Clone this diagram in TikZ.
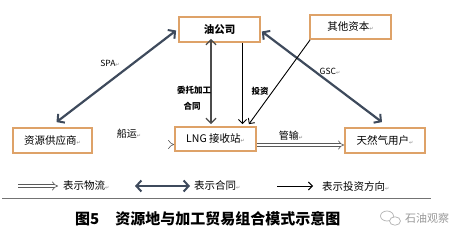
\documentclass[tikz,border=0pt]{standalone}
\usepackage{fontspec}
\setmainfont{Noto Sans CJK SC}
\newfontfamily\symf{DejaVu Sans}
\usetikzlibrary{arrows.meta}
\definecolor{boxc}{RGB}{222,162,104}
\definecolor{ctr}{RGB}{62,74,92}
\newcommand\pmk{{\symf\color{gray}\fontsize{5}{6}\selectfont ↵}}
\begin{document}
\begin{tikzpicture}[x=1pt,y=-1pt,
  box/.style={draw=boxc,line width=1.8pt,fill=white,inner sep=0pt,font=\fontsize{10.5}{12}\selectfont},
  contract/.style={line width=2.2pt,draw=ctr,{Straight Barb[length=5pt,width=11pt,line width=2pt]}-{Straight Barb[length=5pt,width=11pt,line width=2pt]}},
  entrust/.style={line width=1.3pt,draw=black!70,{Straight Barb[length=5pt,width=10pt,line width=1.3pt]}-{Straight Barb[length=5pt,width=10pt,line width=1.3pt]}},
  invest/.style={line width=0.9pt,draw=black,-{Straight Barb[length=4pt,width=8pt,line width=0.9pt]}},
  flow/.style={double=white,double distance=2.6pt,line width=0.6pt,draw=black!65,-{Implies[length=4pt]}},
  lbl/.style={font=\fontsize{8.5}{10}\selectfont,inner sep=0pt},
  leg/.style={font=\fontsize{10.5}{12}\selectfont,inner sep=0pt,anchor=west}]
\useasboundingbox[fill=white] (0,0) rectangle (469,235);

% boxes
\node[box,minimum width=81pt,minimum height=25pt] (oil) at (219.5,29.5) {\bfseries 油公司};
\node[box,minimum width=81pt,minimum height=24pt] (other) at (350.5,27) {其他资本\pmk};
\node[box,minimum width=79pt,minimum height=25pt] (sup) at (52.5,140.5) {资源供应商\pmk};
\node[box,minimum width=81pt,minimum height=24pt] (lng) at (215.5,139) {LNG 接收站\pmk};
\node[box,minimum width=80pt,minimum height=25pt] (cust) at (385,140.5) {天然气用户\pmk};

% contracts
\draw[contract] ([shift={(4,-5)}]sup.north) -- ([shift={(-2,1)}]oil.west);
\draw[contract] ([shift={(1,2)}]oil.east) -- ([shift={(-3,-5)}]cust.north);
\node[lbl] (spa) at (110,63) {SPA\pmk};
\node[lbl] (gsc) at (330,71) {GSC\pmk};

% entrust contract
\coordinate (c1t) at ([shift={(-8.5,-4)}]oil.south);
\coordinate (c1b) at ([yshift=2pt]c1t |- lng.north);
\draw[entrust] (c1t) -- (c1b);
\node[lbl,font=\bfseries\fontsize{8.5}{10}\selectfont] (wt1) at (194,90) {委托加工};
\node[lbl,font=\bfseries\fontsize{8.5}{10}\selectfont] (wt2) at (192,106) {合同};

% investment
\coordinate (i1t) at ([xshift=23pt]oil.south);
\coordinate (i1b) at ([yshift=2pt]i1t |- lng.north);
\draw[invest] (i1t) -- (i1b);
\draw[invest] ([xshift=1pt]other.south west) -- ([shift={(-8,-2)}]lng.north east);
\node[lbl,font=\bfseries\fontsize{8.5}{10}\selectfont] (tz) at (260,91) {投资};

% logistics
\coordinate (f1) at ([yshift=-4pt]sup.east);
\coordinate (f2) at (lng.west |- f1);
\draw[flow] (f1) -- (f2);
\node[lbl,font=\fontsize{10}{12}\selectfont] (cy) at (129,134) {船运\pmk};
\coordinate (g1) at ([yshift=-6pt]lng.east);
\coordinate (g2) at (cust.west |- g1);
\draw[flow] (g1) -- (g2);
\node[lbl,font=\fontsize{10}{12}\selectfont] (gs) at (291,136) {管输\pmk};

% legend
\coordinate (l1a) at (18,186); \coordinate (l1b) at (58,186);
\draw[flow] (l1a) -- (l1b);
\node[leg] (t1) at (63,186) {表示物流\pmk};
\coordinate (l2a) at (135,186); \coordinate (l2b) at (190,186);
\draw[contract] (l2a) -- (l2b);
\node[leg] (t2) at (194,186) {表示合同\pmk};
\coordinate (l3a) at (277,186); \coordinate (l3b) at (313,186);
\draw[invest] (l3a) -- (l3b);
\node[leg] (t3) at (322,186) {表示投资方向\pmk};

\coordinate (h1) at (2,198); \coordinate (h2) at (431,198);
\draw[black!55,line width=0.6pt] (h1) -- (h2);

% caption
\node[inner sep=0pt,anchor=west,font=\bfseries\fontsize{15}{18}\selectfont] (cap) at (75,219) {图5\hspace{16pt}资源地与加工贸易组合模式示意图};

% watermark
\node[inner sep=0pt,anchor=west,text=black!40,font=\fontsize{11}{13}\selectfont] (wm) at (405,218) {石油观察};
\draw[black!30,line width=0.7pt] (387,216) ellipse (6.5 and 5);
\draw[black!30,line width=0.7pt,fill=white] (395,221) ellipse (5.5 and 4.2);
\end{tikzpicture}
\end{document}
